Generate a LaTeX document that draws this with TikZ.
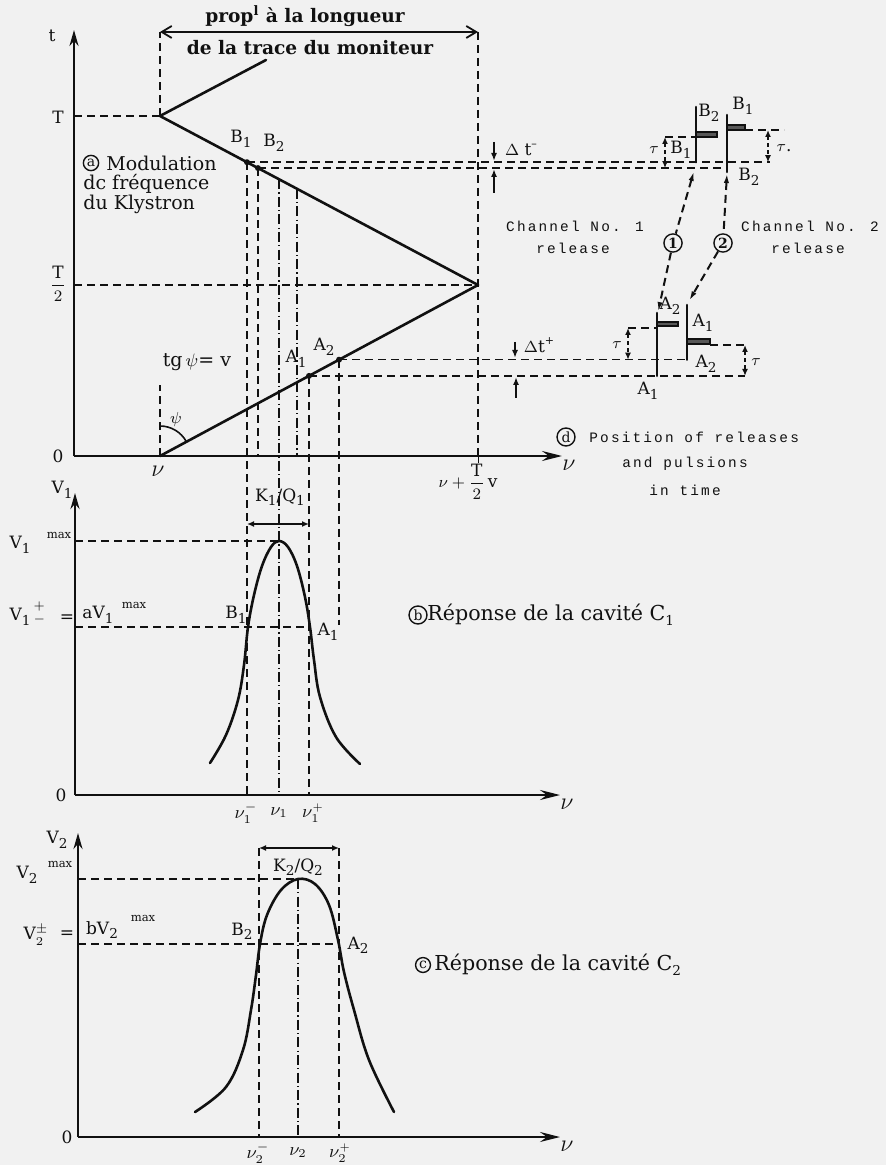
\documentclass[tikz,border=0pt]{standalone}
\usepackage{fontspec}
\setmainfont{DejaVu Serif}
\newfontfamily\tyfont[LetterSpace=15]{Liberation Mono}
\usetikzlibrary{arrows.meta,calc}
\definecolor{bg}{RGB}{241,241,241}
\definecolor{ink}{RGB}{17,17,17}
\newcommand{\mysub}[1]{\raisebox{-0.5ex}{\fontsize{6.8}{7}\selectfont #1}}
\newcommand{\mysup}[1]{\raisebox{0.9ex}{\fontsize{5.5}{6}\selectfont #1}}
\begin{document}
\begin{tikzpicture}[x=0.5pt,y=-0.5pt,
  every node/.style={inner sep=0pt, text=ink},
  mainln/.style={draw=ink, line width=1.3pt, line cap=round, line join=round},
  axisln/.style={draw=ink, line width=1.15pt},
  tarrow/.style={-{Stealth[length=8pt,width=4.5pt]}},
  nuarrow/.style={-{Stealth[length=10pt,width=5pt,inset=3.5pt]}},
  dsh/.style={draw=ink, line width=0.8pt, dash pattern=on 4pt off 2.5pt},
  dd/.style={draw=ink, line width=0.8pt, dash pattern=on 5pt off 1.6pt on 0.6pt off 1.6pt},
  dimarr/.style={draw=ink, line width=0.8pt, {Latex[length=3.5pt,width=3pt]}-{Latex[length=3.5pt,width=3pt]}},
  smallarr/.style={draw=ink, line width=0.9pt, -{Latex[length=4pt,width=3pt]}},
  lbltxt/.style={font=\fontsize{8.5}{10}\selectfont},
  bodytxt/.style={font=\fontsize{9.5}{11}\selectfont},
  bigtxt/.style={font=\fontsize{10.3}{12}\selectfont},
  boldtxt/.style={font=\bfseries\fontsize{9.3}{11}\selectfont},
  monotxt/.style={font=\tyfont\fontsize{7.2}{8}\selectfont},
  maxtxt/.style={font=\fontsize{5.8}{6}\selectfont},
  nutxt/.style={font=\fontsize{9}{10}\selectfont},
  circ/.style={draw=ink, circle, line width=0.7pt, inner sep=0.7pt, font=\fontsize{7}{7}\selectfont},
  hatch/.style={draw=ink, line width=0.6pt, fill=ink!70},
  dot/.style={fill=ink}
]
\fill[bg] (0,0) rectangle (886,1165);
\useasboundingbox (0,0) rectangle (886,1165);

% ================= panel a =================
\coordinate (Oa) at (74,456);
\coordinate (ta) at (74,30);
\coordinate (na) at (562,456);
\draw[axisln,tarrow] (Oa) -- (ta);
\draw[axisln,nuarrow] (Oa) -- (na);
\node[lbltxt] (tlab) at (52,36) {t};
\node[lbltxt] (Tlab) at (58,117) {T};
\node[lbltxt] (T2lab) at (58,284) {$\displaystyle{\mathrm{T}\over 2}$};
\node[lbltxt] (z1) at (58,456) {0};
\node[nutxt] (nua) at (569,465) {\large$\nu$};

\coordinate (S) at (160,456);
\coordinate (P) at (478,285);
\coordinate (Tp) at (160,116);
\coordinate (U) at (266,60);
\coordinate (DL) at (160,32);
\coordinate (DR) at (478,32);

\draw[dsh] (74,116) -- (Tp);
\draw[dsh] (74,285) -- (P);
\draw[dsh] (Tp) -- (DL);
\draw[dsh] (DR) -- (478,456);
\draw[draw=ink,line width=0.5pt] (478,456) -- (478,463);
\draw[draw=ink,line width=0.9pt,{Straight Barb[length=5pt,width=6pt]}-{Straight Barb[length=5pt,width=6pt]}] (DL) -- (DR);
\node[boldtxt] (prop) at (305,16) {prop\textsuperscript{l} à la longueur};
\node[boldtxt] (trace) at (310,48) {de la trace du moniteur};

\draw[mainln] (S) -- (P) -- (Tp) -- (U);

\node[nutxt] (nuS) at (158,471) {\large$\nu$};
\node[lbltxt] (nuT) at (468,482) {$\nu+\displaystyle{\mathrm{T}\over 2}\,\mathrm{v}$};

% psi angle
\coordinate (Sv) at (160,385);
\draw[dsh] (S) -- (Sv);
\draw[draw=ink,line width=0.8pt] (160,426) arc[start angle=-90,end angle=-28.3,radius=30];
\node[lbltxt] (psi) at (176,419) {$\psi$};
\node[bodytxt] (tg) at (197,362) {tg$\,\psi$= v};

% characteristic points
\coordinate (B1) at (247,162.2);
\coordinate (B2) at (258,168.1);
\coordinate (C1) at (279,179.2);
\coordinate (C2) at (297,188.8);
\coordinate (A1) at (309,375.9);
\coordinate (A2) at (339,359.7);
\foreach \p in {B1,B2,A1,A2} \fill[dot] (\p) circle[radius=1.5pt];
\node[lbltxt] (lB1) at (241,139) {B\mysub{1}};
\node[lbltxt] (lB2) at (274,143) {B\mysub{2}};
\node[lbltxt] (lA1) at (296,359) {A\mysub{1}};
\node[lbltxt] (lA2) at (324,347) {A\mysub{2}};

\node[circ] (ca) at (91,163) {a};
\node[bodytxt,anchor=west] (mod1) at (106,163) {Modulation};
\node[bodytxt,anchor=west] (mod2) at (83,184) {dc fréquence};
\node[bodytxt,anchor=west] (mod3) at (83,204) {du Klystron};

% projections
\draw[dsh] (B1) -- (247,795);
\draw[dsh] (B2) -- (258,456);
\draw[dd] (C1) -- (279,795);
\draw[dd] (C2) -- (297,456);
\draw[dsh] (A1) -- (309,795);
\draw[dsh] (A2) -- (339,625);

\draw[dsh] (B1) -- (770,162.2);
\draw[dsh] (B2) -- (727,168.1);
\draw[dsh] (A2) -- (687,359.7);
\draw[dsh] (A1) -- (745,375.9);

% delta t
\draw[smallarr] (494,142) -- (494,161);
\draw[smallarr] (494,193) -- (494,169);
\node[lbltxt] (dtm) at (521,150) {$\Delta$ t\mysup{--}};
\draw[smallarr] (515,342) -- (515,358);
\draw[smallarr] (516,398) -- (516,377);
\node[lbltxt] (dtp) at (539,345) {$\Delta$t\mysup{+}};

% ================= panel d =================
% channel 1, B pulse
\draw[mainln] (696,107) -- (696,162.2);
\draw[hatch] (696,132) rectangle (717,137);
\draw[dsh] (665,137) -- (696,137);
\draw[dimarr,dash pattern=on 2pt off 1.5pt] (665,137) -- (665,168.1);
\node[lbltxt] (tau1) at (654,150) {$\tau$};
\node[lbltxt] (b1c1) at (681,150) {B\mysub{1}};
\node[lbltxt] (b2c1) at (709,113) {B\mysub{2}};
% channel 2, B pulse
\draw[mainln] (727,115) -- (727,172);
\draw[hatch] (727,125) rectangle (745,130);
\draw[dsh] (745,130) -- (784,130);
\draw[dimarr,dash pattern=on 2pt off 1.5pt] (768,130) -- (768,162.2);
\node[lbltxt] (tau2) at (784,148) {$\tau$.};
\node[lbltxt] (b1c2) at (743,106) {B\mysub{1}};
\node[lbltxt] (b2c2) at (749,177) {B\mysub{2}};
% channel 1, A pulse
\draw[mainln] (657,313) -- (657,375.9);
\draw[hatch] (657,322) rectangle (678,326);
\draw[dsh] (628,328) -- (657,328);
\draw[dimarr,dash pattern=on 2pt off 1.5pt] (628,328) -- (628,359.7);
\node[lbltxt] (tau3) at (617,345) {$\tau$};
\node[lbltxt] (a2c1) at (670,306) {A\mysub{2}};
\node[lbltxt] (a1c1) at (648,391) {A\mysub{1}};
% channel 2, A pulse
\draw[mainln] (687,305) -- (687,359.7);
\draw[hatch] (687,339) rectangle (710,344);
\draw[dsh] (710,345) -- (748,345);
\draw[dimarr,dash pattern=on 2pt off 1.5pt] (745,345) -- (745,375.9);
\node[lbltxt] (tau4) at (756,362) {$\tau$};
\node[lbltxt] (a1c2) at (703,323) {A\mysub{1}};
\node[lbltxt] (a2c2) at (706,364) {A\mysub{2}};

% release arrows
\node[circ,font=\bfseries\fontsize{7}{7}\selectfont] (c1) at (673,243) {1};
\node[circ,font=\bfseries\fontsize{7}{7}\selectfont] (c2) at (723,243) {2};
\coordinate (r1t) at (694,171);
\coordinate (r1b) at (658,312);
\coordinate (r2t) at (727,173);
\coordinate (r2b) at (689,301);
\draw[dsh,line width=1pt,{Latex[length=5pt,width=2.6pt]}-] (r1t) -- (c1);
\draw[dsh,line width=1pt,-{Latex[length=5pt,width=2.6pt]}] (c1) -- (r1b);
\draw[dsh,line width=1pt,{Latex[length=5pt,width=2.6pt]}-] (r2t) -- (c2);
\draw[dsh,line width=1pt,-{Latex[length=5pt,width=2.6pt]}] (c2) -- (r2b);

\node[monotxt] (ch1) at (575,226) {Channel No. 1};
\node[monotxt] (rel1) at (573,248) {release};
\node[monotxt] (ch2) at (810,226) {Channel No. 2};
\node[monotxt] (rel2) at (808,248) {release};
\node[circ] (cd) at (566,437) {d};
\node[monotxt,anchor=west] (pos) at (589,437) {Position of releases};
\node[monotxt] (andp) at (685,464) {and pulsions};
\node[monotxt] (intime) at (685,490) {in time};

% ================= panel b =================
\coordinate (Ob) at (75,795);
\draw[axisln,tarrow] (Ob) -- (75,493);
\draw[axisln,nuarrow] (Ob) -- (560,795);
\node[lbltxt] (V1lab) at (62,490) {V\mysub{1}};
\node[lbltxt] (z2) at (61,795) {0};
\node[nutxt] (nub) at (567,804) {\large$\nu$};
\coordinate (Pk1) at (279,541);
\draw[dsh] (75,541) -- (Pk1);
\draw[dsh] (75,627) -- (309,627);
\draw[dimarr] (247,524) -- (309,524);
\node[lbltxt] (K1) at (280,497) {K\mysub{1}/Q\mysub{1}};
\draw[mainln] plot[smooth,tension=0.6] coordinates {(210,763) (226,735) (238,700) (244,665) (248,627) (254,595) (262,566) (271,547) (279,541) (288,547) (297,566) (305,597) (310,627) (314,660) (320,697) (336,737) (360,764)};
\node[lbltxt] (B1b) at (236,615) {B\mysub{1}};
\node[lbltxt] (A1b) at (328,632) {A\mysub{1}};
\node[lbltxt] (V1m) at (20,545) {V\mysub{1}};
\node[maxtxt] (mx1) at (59,535) {max};
\node[lbltxt] (V1p) at (20,617) {V\mysub{1}};
\node[lbltxt] (pm1) at (40,613) {$^{+}_{-}$};
\node[lbltxt] (eq1) at (67,619) {=};
\node[lbltxt] (aV) at (98,615) {aV\mysub{1}};
\node[maxtxt] (mx2) at (134,605) {max};
\node[circ] (cb) at (418,615) {b};
\node[bigtxt,anchor=west] (rep1) at (427,615) {Réponse de la cavité C\mysub{1}};
\node[nutxt] (n1m) at (246,813) {$\nu_1^-$};
\node[nutxt] (n1) at (279,813) {$\nu_1$};
\node[nutxt] (n1p) at (313,813) {$\nu_1^{\scriptscriptstyle +}$};

% ================= panel c =================
\coordinate (Oc) at (78,1137);
\draw[axisln,tarrow] (Oc) -- (78,833);
\draw[axisln,nuarrow] (Oc) -- (560,1137);
\node[lbltxt] (V2lab) at (57,840) {V\mysub{2}};
\node[lbltxt] (z3) at (67,1137) {0};
\node[nutxt] (nuc) at (567,1146) {\large$\nu$};
\coordinate (Pk2) at (298,879);
\draw[dsh] (78,879) -- (Pk2);
\draw[dsh] (78,944) -- (339,944);
\draw[dimarr] (259,848) -- (339,848);
\node[lbltxt] (K2) at (298,867) {K\mysub{2}/Q\mysub{2}};
\draw[dsh] (259,848) -- (259,1137);
\draw[dd] (Pk2) -- (298,1137);
\draw[dsh] (339,848) -- (339,1137);
\draw[mainln] plot[smooth,tension=0.6] coordinates {(195,1112) (226,1087) (243,1050) (251,1010) (256,975) (260,944) (267,915) (281,890) (298,879) (315,884) (329,905) (338,940) (344,972) (354,1010) (369,1060) (394,1112)};
\node[lbltxt] (B2c) at (242,931) {B\mysub{2}};
\node[lbltxt] (A2c) at (358,945) {A\mysub{2}};
\node[lbltxt] (V2m) at (27,875) {V\mysub{2}};
\node[maxtxt] (mx3) at (60,864) {max};
\node[lbltxt] (V2p) at (36,935) {V$^{\pm}_{2}$};
\node[lbltxt] (eq2) at (67,935) {=};
\node[lbltxt] (bV) at (102,930) {bV\mysub{2}};
\node[maxtxt] (mx4) at (143,918) {max};
\node[circ] (cc) at (423,965) {c};
\node[bigtxt,anchor=west] (rep2) at (434,965) {Réponse de la cavité C\mysub{2}};
\node[nutxt] (n2m) at (258,1153) {$\nu_2^-$};
\node[nutxt] (n2) at (298,1153) {$\nu_2$};
\node[nutxt] (n2p) at (340,1153) {$\nu_2^{\scriptscriptstyle +}$};
\end{tikzpicture}
\end{document}
